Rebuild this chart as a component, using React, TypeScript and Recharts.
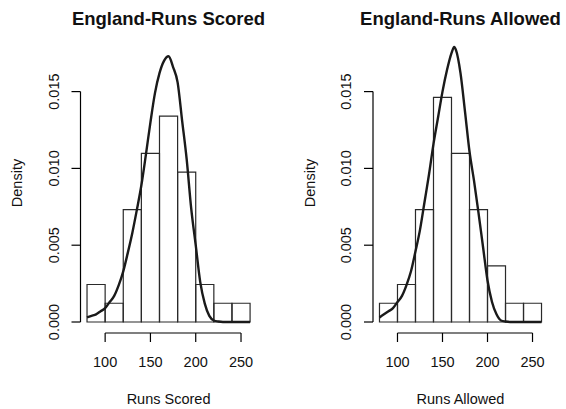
import React from "react";
import {
  ComposedChart,
  Line,
  XAxis,
  YAxis,
  ReferenceArea,
  ReferenceLine,
} from "recharts";

// histogram bins (left edges, width 20)
const binStarts = [80, 100, 120, 140, 160, 180, 200, 220, 240];
const binWidth = 20;

const scoredDensity = [0.00244, 0.00122, 0.00732, 0.01098, 0.01341, 0.00976, 0.00244, 0.00122, 0.00122];
const allowedDensity = [0.00122, 0.00244, 0.00732, 0.01463, 0.01098, 0.00732, 0.00366, 0.00122, 0.00122];

// density curves
const scoredX = [80, 85, 90, 95, 100, 105, 110, 115, 120, 125, 130, 135, 140, 145, 150, 155, 160, 165, 170, 175, 180, 185, 190, 195, 200, 205, 210, 215, 220, 225, 230, 235, 240, 245, 250, 255, 260];
const scoredCurve = [0.0003, 0.0004, 0.0005, 0.0007, 0.0009, 0.0013, 0.0017, 0.0024, 0.0033, 0.0045, 0.0058, 0.0073, 0.0089, 0.0109, 0.013, 0.0149, 0.0162, 0.017, 0.0173, 0.0166, 0.0156, 0.0131, 0.0106, 0.0074, 0.005, 0.0026, 0.0012, 0.0004, 0.0001, 0.00003, 0, 0, 0, 0, 0, 0, 0];

const allowedX = [80, 85, 90, 95, 100, 105, 110, 115, 120, 125, 130, 135, 140, 145, 150, 155, 160, 163, 165, 170, 175, 180, 185, 190, 195, 200, 205, 210, 215, 220, 225, 230, 235, 240, 245, 250, 255, 260];
const allowedCurve = [0.0003, 0.0005, 0.0007, 0.0009, 0.0013, 0.0017, 0.0024, 0.0033, 0.0046, 0.006, 0.0078, 0.0096, 0.0116, 0.0133, 0.015, 0.0164, 0.0175, 0.0179, 0.0177, 0.0162, 0.0137, 0.0111, 0.0092, 0.0071, 0.0049, 0.0027, 0.0013, 0.0005, 0.0001, 0.00003, 0, 0, 0, 0, 0, 0, 0, 0];

const xTicks = [100, 150, 200, 250];
const yTicks = [0, 0.005, 0.01, 0.015];

const X_DOMAIN: [number, number] = [72.8, 267.2];
const Y_DOMAIN: [number, number] = [-0.000716, 0.01862];

const FONT = "'Liberation Sans', Arial, Helvetica, sans-serif";
const INK = "#111";

type PanelProps = {
  left: number;
  plotLeft: number;
  plotRight: number;
  title: string;
  xLabel: string;
  density: number[];
  curveX: number[];
  curveY: number[];
};

function YTick(props: any) {
  const { y, payload, labelX } = props;
  return (
    <text
      x={labelX}
      y={y}
      transform={`rotate(-90 ${labelX} ${y})`}
      textAnchor="middle"
      fontSize={14.5}
      fill={INK}
    >
      {Number(payload.value).toFixed(3)}
    </text>
  );
}

function Panel({ left, plotLeft, plotRight, title, xLabel, density, curveX, curveY }: PanelProps) {
  const W = 283;
  const H = 409;
  const data = curveX.map((x, i) => ({ x, y: curveY[i] }));
  const mid = (plotLeft + plotRight) / 2;

  return (
    <div style={{ position: "absolute", left, top: 0, width: W, height: H }}>
      <ComposedChart
        width={W}
        height={H}
        data={data}
        margin={{ top: 36, right: W - plotRight, bottom: 36, left: 0 }}
      >
        <XAxis
          dataKey="x"
          type="number"
          domain={X_DOMAIN}
          ticks={xTicks}
          allowDataOverflow
          axisLine={false}
          tickLine={{ stroke: "#000", strokeWidth: 1.2 }}
          tickSize={9}
          tickMargin={15}
          height={40}
          tick={{ fontSize: 14.5, fill: INK }}
        />
        <YAxis
          type="number"
          domain={Y_DOMAIN}
          ticks={yTicks}
          allowDataOverflow
          axisLine={false}
          tickLine={{ stroke: "#000", strokeWidth: 1.2 }}
          tickSize={9}
          width={plotLeft}
          tick={(p: any) => <YTick {...p} labelX={plotLeft - 21.5} />}
        />

        {binStarts.map((b, i) => (
          <ReferenceArea
            key={b}
            x1={b}
            x2={b + binWidth}
            y1={0}
            y2={density[i]}
            fill="none"
            fillOpacity={0}
            stroke="#2a2a2a"
            strokeWidth={1.2}
            strokeOpacity={1}
          />
        ))}

        {/* R style axes: lines only span the tick range */}
        <ReferenceLine
          segment={[{ x: 100, y: Y_DOMAIN[0] }, { x: 250, y: Y_DOMAIN[0] }]}
          stroke="#000"
          strokeWidth={1.2}
          ifOverflow="visible"
        />
        <ReferenceLine
          segment={[{ x: X_DOMAIN[0], y: 0 }, { x: X_DOMAIN[0], y: 0.015 }]}
          stroke="#000"
          strokeWidth={1.2}
          ifOverflow="visible"
        />

        <Line
          dataKey="y"
          type="monotone"
          stroke="#1a1a1a"
          strokeWidth={2.4}
          dot={false}
          activeDot={false}
          isAnimationActive={false}
        />
      </ComposedChart>

      <svg
        width={W}
        height={H}
        style={{ position: "absolute", left: 0, top: 0, pointerEvents: "none", overflow: "visible" }}
      >
        <text x={mid} y={25} textAnchor="middle" fontSize={18.5} fontWeight="bold" fill={INK}>
          {title}
        </text>
        <text x={mid} y={404} textAnchor="middle" fontSize={14.5} fill={INK}>
          {xLabel}
        </text>
        <text
          x={plotLeft - 58.5}
          y={183}
          transform={`rotate(-90 ${plotLeft - 58.5} 183)`}
          textAnchor="middle"
          fontSize={14.5}
          fill={INK}
        >
          Density
        </text>
      </svg>
    </div>
  );
}

export default function App() {
  return (
    <div
      style={{
        position: "absolute",
        left: 0,
        top: 0,
        width: 566,
        height: 409,
        background: "#fff",
        fontFamily: FONT,
        overflow: "hidden",
      }}
    >
      <Panel
        left={0}
        plotLeft={80.5}
        plotRight={256.6}
        title="England-Runs Scored"
        xLabel="Runs Scored"
        density={scoredDensity}
        curveX={scoredX}
        curveY={scoredCurve}
      />
      <Panel
        left={283}
        plotLeft={90}
        plotRight={265}
        title="England-Runs Allowed"
        xLabel="Runs Allowed"
        density={allowedDensity}
        curveX={allowedX}
        curveY={allowedCurve}
      />
    </div>
  );
}
